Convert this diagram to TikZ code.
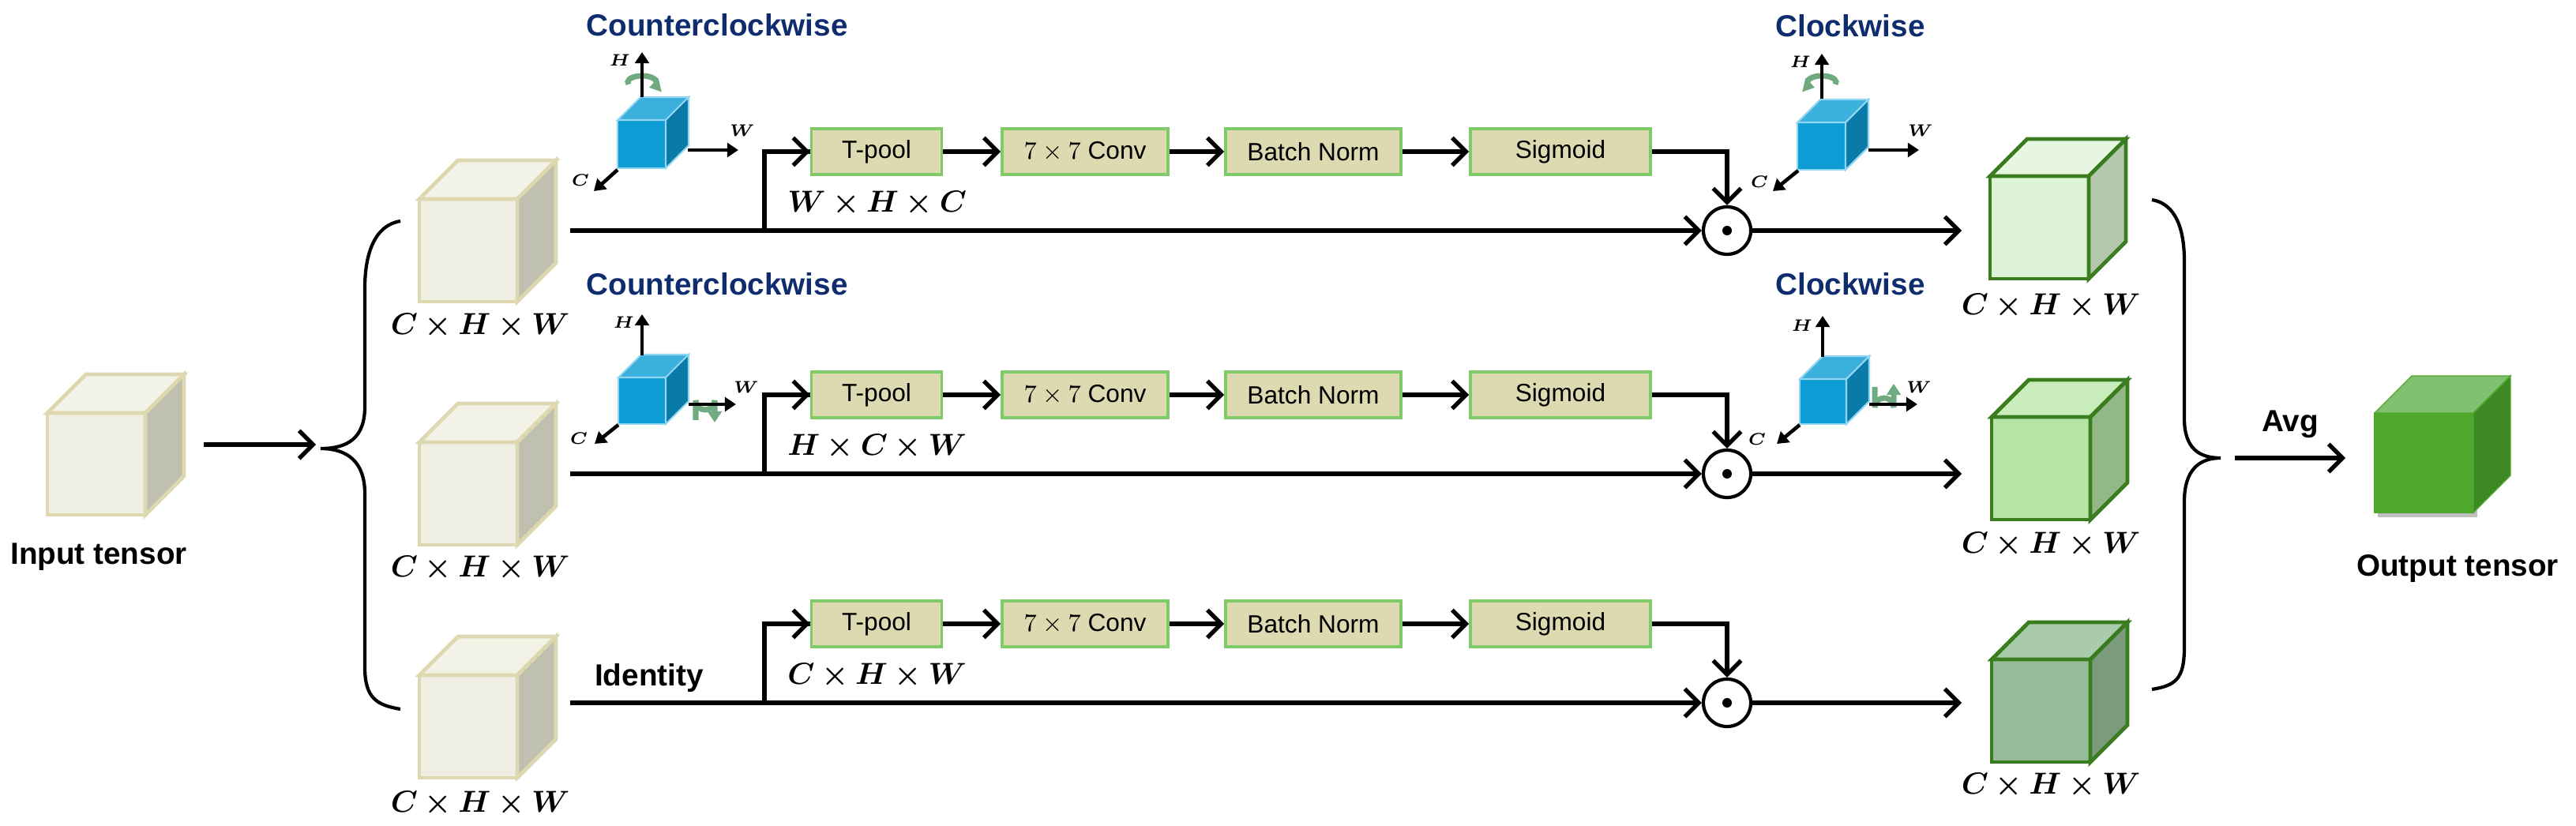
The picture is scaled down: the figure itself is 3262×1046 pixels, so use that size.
\documentclass[tikz,border=0pt]{standalone}
\usepackage{fontspec}
\usepackage{amsmath,bm}
\setmainfont{Liberation Sans}
\usetikzlibrary{arrows.meta}
\definecolor{navy}{HTML}{0F2D6E}
\definecolor{boxfill}{HTML}{DDD9B0}
\definecolor{boxedge}{HTML}{7FCB6A}
\definecolor{beigeE}{HTML}{DDD8B0}
\definecolor{beigeF}{HTML}{EEEEE2}
\definecolor{beigeT}{HTML}{F2F2E6}
\definecolor{beigeS}{HTML}{C0C0B0}
\definecolor{gE}{HTML}{3A7D1E}
\definecolor{rotg}{HTML}{6FAA80}
\definecolor{g1F}{HTML}{DDF3D6}\definecolor{g1T}{HTML}{E6F6E0}\definecolor{g1S}{HTML}{B3C8AC}
\definecolor{g2F}{HTML}{B5E4A5}\definecolor{g2T}{HTML}{C8EDBB}\definecolor{g2S}{HTML}{93B888}
\definecolor{g3F}{HTML}{94BC98}\definecolor{g3T}{HTML}{A9CAAB}\definecolor{g3S}{HTML}{7A9C7C}
\definecolor{oF}{HTML}{4EA82E}\definecolor{oT}{HTML}{80C070}\definecolor{oS}{HTML}{3D8A25}
\definecolor{bF}{HTML}{0E9CD4}\definecolor{bT}{HTML}{3CB0DC}\definecolor{bS}{HTML}{0A7AA8}\definecolor{bE}{HTML}{8FD6F2}
\newcommand{\tcube}[9]{%
 \filldraw[draw=#9,fill=#6] (#1,#2) rectangle ++(#3,#4);
 \filldraw[draw=#9,fill=#7] (#1,#2) -- ++(#5,-#5) -- ++(#3,0) -- ++(-#5,#5) -- cycle;
 \filldraw[draw=#9,fill=#8] (#1+#3,#2) -- ++(#5,-#5) -- ++(0,#4) -- ++(-#5,#5) -- cycle;}
\begin{document}
\begin{tikzpicture}[x=0.01cm,y=-0.01cm,
  line join=miter,
  conn/.style={line width=1.5pt},
  arr/.style={conn,-{Straight Barb[length=5pt,width=10pt,line width=1.5pt]}},
  axarr/.style={line width=1.3pt,-{Triangle[length=4pt,width=5pt]}},
  box/.style={draw=boxedge,fill=boxfill,line width=1pt,minimum height=0.58cm,inner sep=0pt,font=\fontsize{9}{10}\selectfont},
  title/.style={text=navy,font=\fontsize{11}{12}\selectfont\bfseries},
  dim/.style={font=\fontsize{11}{12}\selectfont},
  ax/.style={font=\fontsize{6}{7}\selectfont,inner sep=0pt},
  odot/.style={circle,draw,line width=1.2pt,minimum size=0.6cm,inner sep=0pt},
  rot/.style={rotg,line width=2pt,-{Triangle[length=4pt,width=5pt]}},
  cedge/.style={line width=1.4pt}]
\useasboundingbox (0,0) rectangle (3262,1046);

% ---------- tensors ----------
\begin{scope}[cedge]
\tcube{60}{523}{124}{129}{49}{beigeF}{beigeT}{beigeS}{beigeE}
\tcube{531}{252}{124}{130}{49}{beigeF}{beigeT}{beigeS}{beigeE}
\tcube{531}{560}{124}{130}{49}{beigeF}{beigeT}{beigeS}{beigeE}
\tcube{531}{855}{124}{130}{49}{beigeF}{beigeT}{beigeS}{beigeE}
\tcube{2520}{223}{125}{130}{47}{g1F}{g1T}{g1S}{gE}
\tcube{2522}{528}{125}{130}{47}{g2F}{g2T}{g2S}{gE}
\tcube{2522}{835}{125}{130}{47}{g3F}{g3T}{g3S}{gE}
\end{scope}
% output cube
\fill[black!25] (3011,530) rectangle (3137,655);
\tcube{3007}{523}{125}{126}{47}{oF}{oT}{oS}{oF}

% blue cubes
\begin{scope}[line width=0.6pt]
\tcube{782}{152}{61}{61}{29}{bF}{bT}{bS}{bE}
\tcube{783}{478}{60}{59}{29}{bF}{bT}{bS}{bE}
\tcube{2276}{155}{61}{60}{29}{bF}{bT}{bS}{bE}
\tcube{2279}{480}{59}{57}{29}{bF}{bT}{bS}{bE}
\end{scope}

% axes, left row1
\coordinate (a1h0) at (813,123); \coordinate (a1h1) at (813,66);
\coordinate (a1w0) at (871,190); \coordinate (a1w1) at (935,190);
\coordinate (a1c0) at (782,215); \coordinate (a1c1) at (752,242);
\draw[rot] (813,104) ++(160:18 and 8) arc[start angle=160,end angle=420,x radius=18,y radius=8];
\draw[axarr] (a1h0) -- (a1h1); \draw[axarr] (a1w0) -- (a1w1); \draw[axarr] (a1c0) -- (a1c1);
\node[ax] at (785,76) {$\bm{H}$}; \node[ax] at (940,165) {$\bm{W}$}; \node[ax] at (735,228) {$\bm{C}$};
% axes, left row2
\coordinate (a2h0) at (813,450); \coordinate (a2h1) at (813,398);
\coordinate (a2w0) at (872,512); \coordinate (a2w1) at (932,512);
\coordinate (a2c0) at (783,538); \coordinate (a2c1) at (753,562);
\draw[rot] (881,532) -- (881,507) arc[start angle=180,end angle=0,radius=12] -- (905,535);
\draw[axarr] (a2h0) -- (a2h1); \draw[axarr] (a2w0) -- (a2w1); \draw[axarr] (a2c0) -- (a2c1);
\node[ax] at (790,408) {$\bm{H}$}; \node[ax] at (945,490) {$\bm{W}$}; \node[ax] at (733,555) {$\bm{C}$};
% axes, right row1
\coordinate (b1h0) at (2307,125); \coordinate (b1h1) at (2307,68);
\coordinate (b1w0) at (2366,190); \coordinate (b1w1) at (2430,190);
\coordinate (b1c0) at (2277,216); \coordinate (b1c1) at (2245,242);
\draw[rot] (2307,104) ++(20:18 and 8) arc[start angle=20,end angle=-240,x radius=18,y radius=8];
\draw[axarr] (b1h0) -- (b1h1); \draw[axarr] (b1w0) -- (b1w1); \draw[axarr] (b1c0) -- (b1c1);
\node[ax] at (2280,78) {$\bm{H}$}; \node[ax] at (2432,165) {$\bm{W}$}; \node[ax] at (2228,230) {$\bm{C}$};
% axes, right row2
\coordinate (b2h0) at (2308,452); \coordinate (b2h1) at (2308,400);
\coordinate (b2w0) at (2367,512); \coordinate (b2w1) at (2428,512);
\coordinate (b2c0) at (2279,538); \coordinate (b2c1) at (2250,562);
\draw[rot] (2374,490) -- (2374,516) arc[start angle=180,end angle=360,radius=12] -- (2398,486);
\draw[axarr] (b2h0) -- (b2h1); \draw[axarr] (b2w0) -- (b2w1); \draw[axarr] (b2c0) -- (b2c1);
\node[ax] at (2282,412) {$\bm{H}$}; \node[ax] at (2430,490) {$\bm{W}$}; \node[ax] at (2225,556) {$\bm{C}$};

% titles
\node[title] at (908,32) {Counterclockwise};
\node[title] at (2343,33) {Clockwise};
\node[title] at (908,360) {Counterclockwise};
\node[title] at (2343,360) {Clockwise};

% labels
\node[font=\fontsize{11}{12}\selectfont\bfseries] (inlbl) at (125,705) {Input tensor};
\node[font=\fontsize{11}{12}\selectfont\bfseries] (outlbl) at (3112,720) {Output tensor};
\node[dim] at (608,413) {$\bm{C\times H\times W}$};
\node[dim] at (608,720) {$\bm{C\times H\times W}$};
\node[dim] at (608,1018) {$\bm{C\times H\times W}$};
\node[dim] at (2597,388) {$\bm{C\times H\times W}$};
\node[dim] at (2597,690) {$\bm{C\times H\times W}$};
\node[dim] at (2597,995) {$\bm{C\times H\times W}$};

% input arrow & left brace
\coordinate (inR) at (258,563); \coordinate (brL) at (400,563);
\draw[arr] (inR) -- (brL);
\coordinate (lbtip) at (406,568);
\draw[line width=1.2pt] (507,280) .. controls (475,285) and (462,320) .. (462,365) -- (462,515) .. controls (462,555) and (440,568) .. (lbtip)
  .. controls (440,568) and (462,585) .. (462,625) -- (462,845) .. controls (462,885) and (478,893) .. (507,898);
% right brace
\coordinate (rbtip) at (2812,580);
\draw[line width=1.2pt] (2725,253) .. controls (2755,258) and (2766,290) .. (2766,330) -- (2766,530) .. controls (2766,568) and (2785,580) .. (rbtip)
  .. controls (2785,580) and (2766,595) .. (2766,635) -- (2766,820) .. controls (2766,860) and (2755,868) .. (2725,873);
\coordinate (avgS) at (2830,580); \coordinate (avgE) at (2970,580);
\draw[arr] (avgS) -- node[above=3pt,font=\fontsize{11}{12}\selectfont\bfseries] {Avg} (avgE);

% rows
\foreach \r/\L/\B/\lab in {1/292/192/{\bm{W\times H\times C}},2/600/500/{\bm{H\times C\times W}},3/890/790/{\bm{C\times H\times W}}}{
  \node[box,minimum width=1.65cm] (tp\r) at (1110,\B) {T-pool};
  \node[box,minimum width=2.1cm] (cv\r) at (1374,\B) {$7\times7$ Conv};
  \node[box,minimum width=2.22cm] (bn\r) at (1663,\B) {Batch Norm};
  \node[box,minimum width=2.28cm] (sg\r) at (1976,\B) {Sigmoid};
  \node[odot] (ot\r) at (2187,\L) {};
  \fill (ot\r) circle (6);
  \coordinate (st\r) at (722,\L);
  \coordinate (br\r) at (968,\L);
  \coordinate (en\r) at (2484,\L);
  \draw[arr] (st\r) -- (ot\r.west);
  \draw[conn] (br\r) |- (tp\r.west);
  \draw[arr] (br\r |- tp\r.west) -- (tp\r.west);
  \draw[arr] (tp\r) -- (cv\r);
  \draw[arr] (cv\r) -- (bn\r);
  \draw[arr] (bn\r) -- (sg\r);
  \draw[arr] (sg\r.east) -| (ot\r.north);
  \draw[arr] (ot\r.east) -- (en\r);
  \node[dim,anchor=west] at (985,\L-34) {$\lab$};
}
\node[font=\fontsize{11}{12}\selectfont\bfseries] at (822,858) {Identity};
\end{tikzpicture}
\end{document}
